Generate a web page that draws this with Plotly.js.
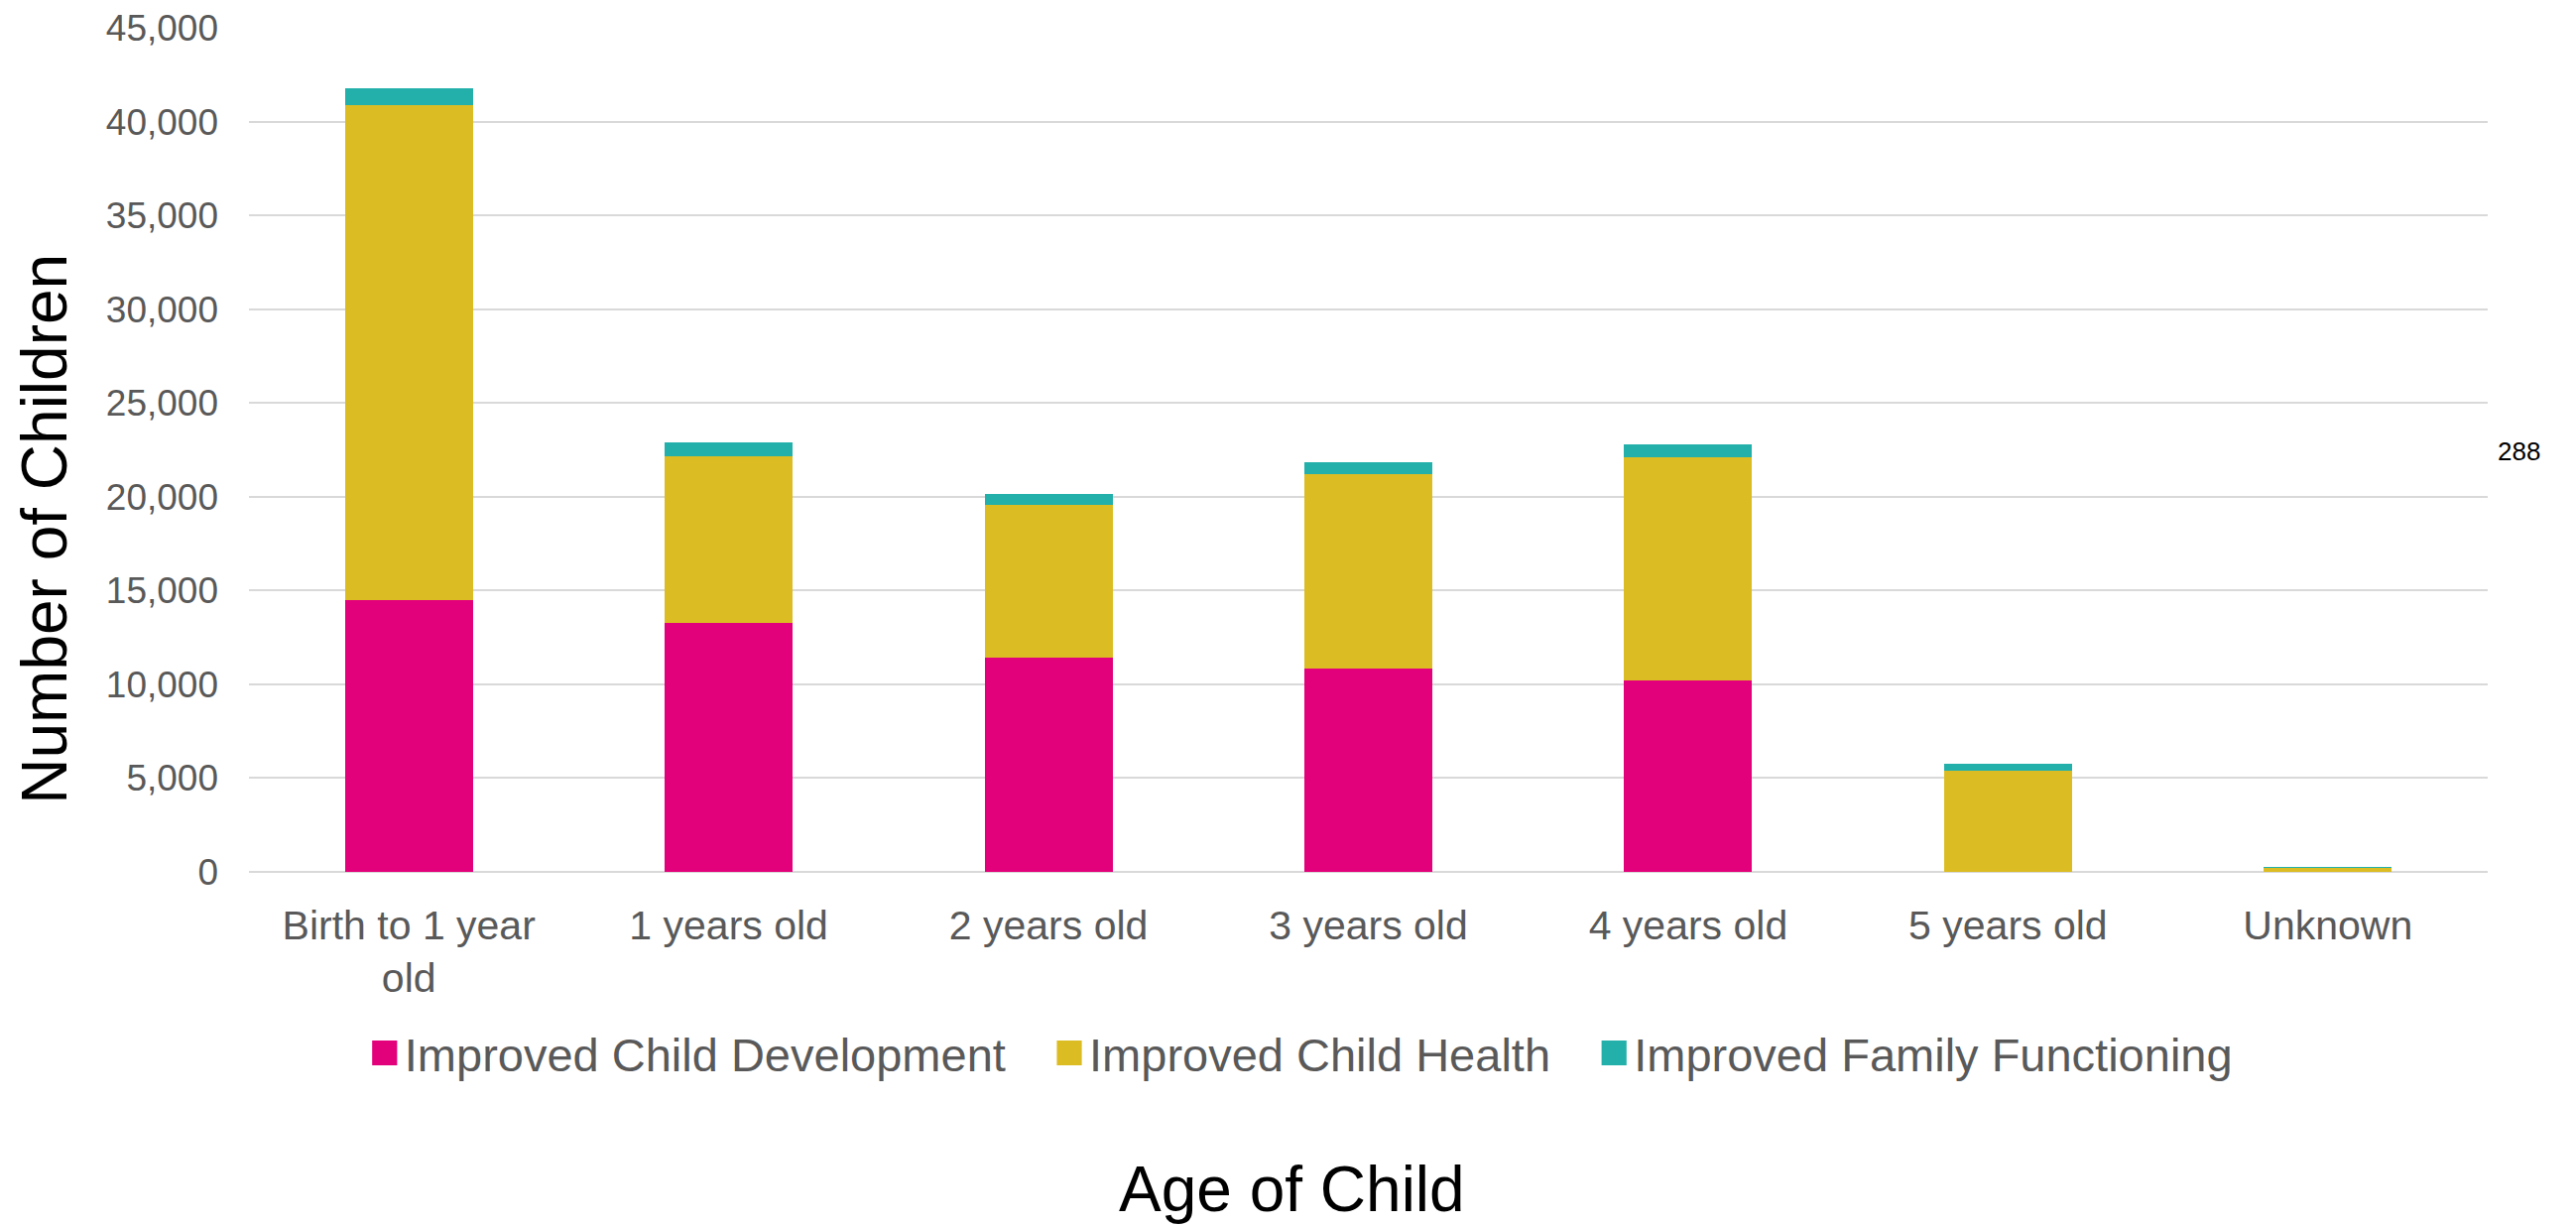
<!DOCTYPE html>
<html>
<head>
<meta charset="utf-8">
<script src="https://cdn.plot.ly/plotly-3.0.1.min.js"></script>
<style>
  html, body { margin: 0; padding: 0; background: #ffffff; }
  #chart { width: 2597px; height: 1236px; }
</style>
</head>
<body>
<div id="chart"></div>
<script>
// Age groups along the x axis
const ageGroups = ['Birth to 1 year<br>old', '1 years old', '2 years old', '3 years old', '4 years old', '5 years old', 'Unknown'];

// Number of children per outcome, by age group
const childDevelopment = [14480, 13265, 11444, 10862, 10228, 0, 0];
const childHealth      = [26420, 8904, 8133, 10355, 11890, 5386, 230];
const familyFunctioning = [900, 704, 582, 635, 690, 353, 58];

const seriesNames = ['Improved Child Development', 'Improved Child Health', 'Improved Family Functioning'];
const seriesColors = ['#E3007B', '#DBBD23', '#23B0AA'];

// Axis titles
const xTitle = 'Age of Child';
const yTitle = 'Number of Children';

// Total shown for the Unknown group
const unknownIdx = ageGroups.indexOf('Unknown');
const unknownTotal = childDevelopment[unknownIdx] + childHealth[unknownIdx] + familyFunctioning[unknownIdx];

const font = '"Liberation Sans", Arial, sans-serif';
// extra room after each legend entry except the last
const legendPad = '\u00a0\u00a0\u00a0';

const traces = [childDevelopment, childHealth, familyFunctioning].map((vals, i) => ({
  type: 'bar',
  x: ageGroups,
  y: vals,
  name: seriesNames[i] + (i < seriesNames.length - 1 ? legendPad : ''),
  marker: { color: seriesColors[i], line: { width: 0 } },
  hoverinfo: 'x+y+name'
}));

const layout = {
  width: 2597,
  height: 1236,
  barmode: 'stack',
  bargap: 0.6,
  paper_bgcolor: '#ffffff',
  plot_bgcolor: '#ffffff',
  margin: { l: 251, r: 89, t: 28, b: 357 },
  font: { family: font, color: '#595959' },
  xaxis: {
    type: 'category',
    showgrid: false,
    showline: false,
    ticks: '',
    tickfont: { size: 41, color: '#595959', family: font },
    ticklabelstandoff: 26
  },
  yaxis: {
    range: [0, 45000],
    dtick: 5000,
    tickformat: ',d',
    showgrid: true,
    gridcolor: '#d9d9d9',
    gridwidth: 2,
    zeroline: true,
    zerolinecolor: '#d9d9d9',
    zerolinewidth: 2,
    showline: false,
    ticks: '',
    tickfont: { size: 37, color: '#595959', family: font },
    ticklabelstandoff: 30
  },
  showlegend: true,
  legend: {
    orientation: 'h',
    x: 0.47,
    xanchor: 'center',
    y: -0.215,
    yanchor: 'middle',
    font: { size: 47, color: '#595959', family: font },
    itemclick: false,
    itemdoubleclick: false,
    traceorder: 'normal'
  },
  annotations: [
    {
      // x axis title, centred under the whole figure
      xref: 'paper', yref: 'paper',
      x: 0.4657, y: -0.376,
      xanchor: 'center', yanchor: 'middle',
      text: xTitle,
      showarrow: false,
      font: { size: 64, color: '#000000', family: font }
    },
    {
      // y axis title, rotated
      xref: 'paper', yref: 'paper',
      x: -0.0913, y: 0.4068,
      xanchor: 'center', yanchor: 'middle',
      textangle: -90,
      text: yTitle,
      showarrow: false,
      font: { size: 64, color: '#000000', family: font }
    },
    {
      xref: 'paper', yref: 'paper',
      x: 1.014, y: 0.4985,
      xanchor: 'center', yanchor: 'middle',
      text: String(unknownTotal),
      showarrow: false,
      font: { size: 26, color: '#000000', family: font }
    }
  ]
};

Plotly.newPlot('chart', traces, layout, { staticPlot: true, displayModeBar: false }).then(() => {
  // Enlarge the legend swatches to suit the large legend text
  document.querySelectorAll('.legend .legendpoints path').forEach(p => {
    const t = p.getAttribute('transform') || '';
    p.setAttribute('transform', (t + ' scale(2.1)').trim());
  });
});
</script>
</body>
</html>
